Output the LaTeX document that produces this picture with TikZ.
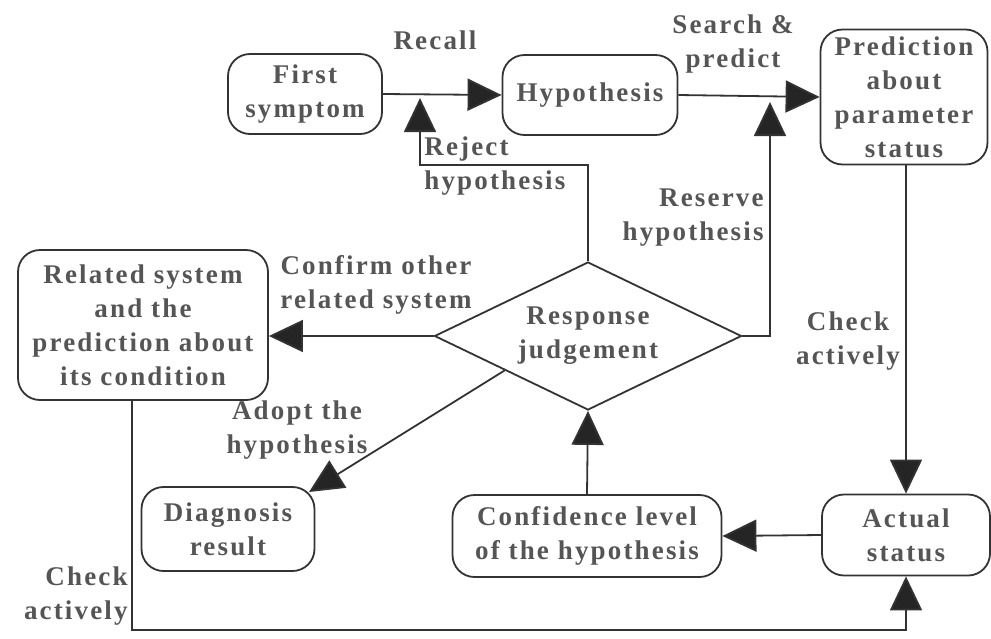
\documentclass[tikz,border=0pt]{standalone}
\usepackage{fontspec}
\setmainfont[LetterSpace=8]{Liberation Serif}
\usetikzlibrary{shapes.geometric,arrows.meta,calc}
\definecolor{txt}{HTML}{555555}
\definecolor{ln}{HTML}{333333}
\definecolor{tipc}{HTML}{252525}
\begin{document}
\begin{tikzpicture}[x=0.5pt,y=-0.5pt,
  every node/.style={font=\fontsize{13.5}{17}\selectfont\bfseries, text=txt},
  box/.style={draw=ln, line width=0.9pt, rounded corners=11pt, align=center, inner sep=0pt},
  lbl/.style={inner sep=0pt},
  arr/.style={draw=ln, line width=0.9pt, -{Triangle[length=17pt,width=16pt,fill=tipc]}},
  con/.style={draw=ln, line width=0.9pt}]
\useasboundingbox (0,0) rectangle (991,638);

% process boxes
\node[box, minimum width=77pt, minimum height=40pt] (fs) at (305,94) {First\\symptom};
\node[box, minimum width=87.5pt, minimum height=40pt] (hyp) at (590,95) {Hypothesis};
\node[box, minimum width=83.5pt, minimum height=67.5pt] (pred) at (904,97) {Prediction\\about\\parameter\\status};
\node[box, minimum width=125pt, minimum height=75pt] (rel) at (143,325) {Related system\\and the\\prediction about\\its condition};
\node[draw=ln, line width=0.9pt, diamond, aspect=2.07, inner sep=0pt,
      minimum width=153.5pt, minimum height=74pt, align=center] (rj) at (588,336) {Response\\judgement};
\node[box, minimum width=86.5pt, minimum height=42pt] (dg) at (228,529) {Diagnosis\\result};
\node[box, minimum width=134.5pt, minimum height=41pt] (cf) at (587,536) {Confidence level\\of the hypothesis};
\node[box, minimum width=84pt, minimum height=40.5pt] (act) at (906,535) {Actual\\status};

% free ends of the feedback connectors
\coordinate (rejtip) at (420,98);
\coordinate (restip) at (770,102);
\coordinate (dgtip) at (309,492);
\coordinate (botleft) at (132,630);

% connectors
\draw[arr] (fs.east) -- (hyp.west);
\draw[arr] (hyp.east) -- (pred.west);
\draw[arr] (rj.north) -- (rj.north |- 0,165) -| (rejtip);
\draw[arr] (rj.east) -| (restip);
\draw[arr] (pred.south -| act.north) -- (act.north);
\draw[arr] (act.west) -- (cf.east);
\draw[arr] (cf.north) -- (rj.south);
\draw[arr] (rj.west) -- (rel.east |- rj.west);
\draw[arr] ($(rj.west)!0.46!(rj.south)$) -- (dgtip);
\draw[arr] (rel.south -| botleft) -- (botleft) -| (act.south);

% connector labels
\node[lbl] (l1) at (435,40) {Recall};
\node[lbl, align=center] (l2) at (733,44) {Search \&\\predict};
\node[lbl, align=left, anchor=west] (l3) at (424,166) {Reject\\hypothesis};
\node[lbl, align=right, anchor=east] (l4) at (764,218) {Reserve\\hypothesis};
\node[lbl, align=center] (l5) at (376,285) {Confirm other\\related system};
\node[lbl, align=center] (l6) at (848,341) {Check\\actively};
\node[lbl, align=center] (l7) at (297,430) {Adopt the\\hypothesis};
\node[lbl, align=right, anchor=east] (l8) at (128,596) {Check\\actively};
\end{tikzpicture}
\end{document}
